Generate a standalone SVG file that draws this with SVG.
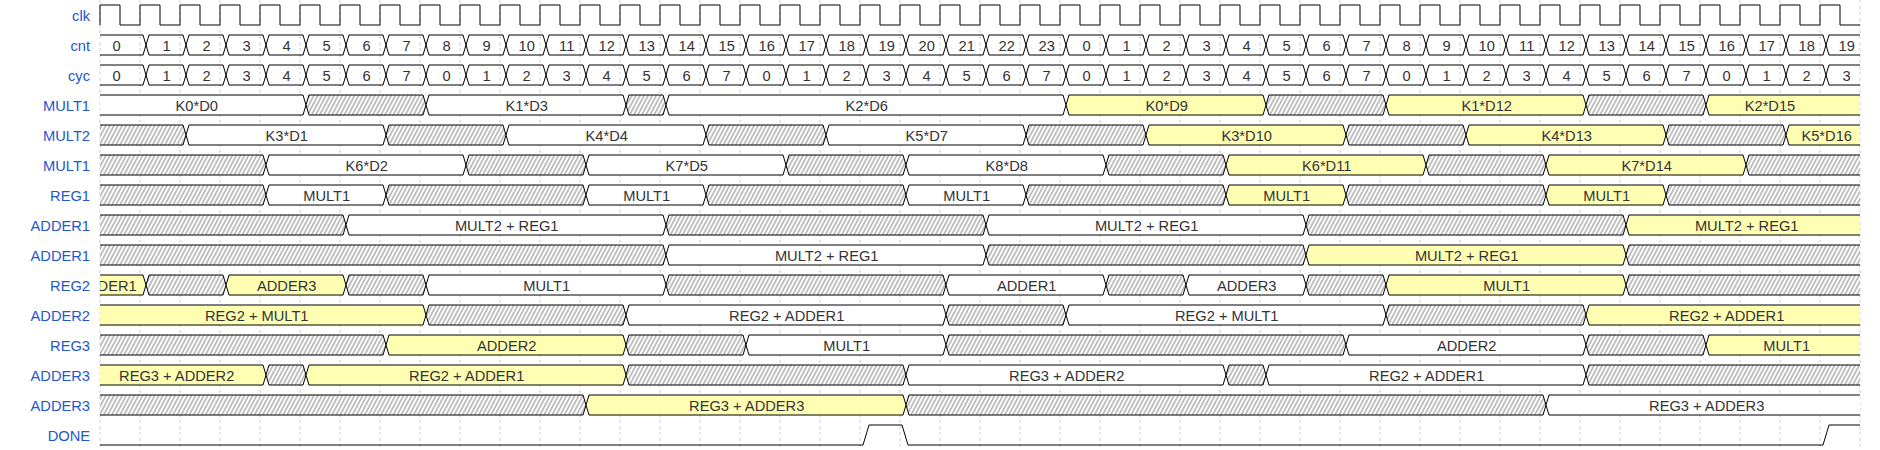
<svg xmlns="http://www.w3.org/2000/svg" xmlns:xlink="http://www.w3.org/1999/xlink" width="1880" height="450" viewBox="0 0 1880 450">
<style>
.lbl{font-family:"Liberation Sans",Arial,Helvetica,sans-serif;font-size:14.67px;fill:#1f56cc;text-anchor:end}
.t{font-family:"Liberation Sans",Arial,Helvetica,sans-serif;font-size:14.67px;fill:#333;text-anchor:middle}
.s{stroke:#000;stroke-width:1;fill:none}
.w{fill:#fff;stroke:#000;stroke-width:1}
.y{fill:#ffffb4;stroke:#000;stroke-width:1}
.h{fill:url(#hatch);stroke:#000;stroke-width:1}
.grid line{stroke:#ccc;stroke-width:1;stroke-dasharray:3,3}
</style>
<defs>
<pattern id="hatch" patternUnits="userSpaceOnUse" width="3.6" height="3.6" patternTransform="rotate(28)">
<rect width="3.6" height="3.6" fill="#fff"/>
<line x1="1.8" y1="-1" x2="1.8" y2="5" stroke="#7a7a7a" stroke-width="0.9"/>
</pattern>
<clipPath id="lane"><rect x="0" y="-5" width="1760" height="30"/></clipPath>
<path id="zz1" class="s" d="M0,0 h43 l6,20h34l6,-20h34 l6,20h34l6,-20h34 l6,20h34l6,-20h34 l6,20h34l6,-20h34 l6,20h34l6,-20h34 l6,20h34l6,-20h34 l6,20h34l6,-20h34 l6,20h34l6,-20h34 l6,20h34l6,-20h34 l6,20h34l6,-20h34 l6,20h34l6,-20h34 l6,20h34l6,-20h34 l6,20h34l6,-20h34 l6,20h34l6,-20h34 l6,20h34l6,-20h34 l6,20h34l6,-20h34 l6,20h34l6,-20h34 l6,20h34l6,-20h34 l6,20h34l6,-20h34 l6,20h34l6,-20h34 l6,20h34l6,-20h34 l6,20h31"/>
<path id="zz2" class="s" d="M0,20 h43 l6,-20h34l6,20h34 l6,-20h34l6,20h34 l6,-20h34l6,20h34 l6,-20h34l6,20h34 l6,-20h34l6,20h34 l6,-20h34l6,20h34 l6,-20h34l6,20h34 l6,-20h34l6,20h34 l6,-20h34l6,20h34 l6,-20h34l6,20h34 l6,-20h34l6,20h34 l6,-20h34l6,20h34 l6,-20h34l6,20h34 l6,-20h34l6,20h34 l6,-20h34l6,20h34 l6,-20h34l6,20h34 l6,-20h34l6,20h34 l6,-20h34l6,20h34 l6,-20h34l6,20h34 l6,-20h34l6,20h34 l6,-20h34l6,20h34 l6,-20h31"/>
</defs>
<rect width="1880" height="450" fill="#fff"/>

<g class="grid">
<line x1="100" y1="0" x2="100" y2="450"/><line x1="140" y1="0" x2="140" y2="450"/><line x1="180" y1="0" x2="180" y2="450"/><line x1="220" y1="0" x2="220" y2="450"/><line x1="260" y1="0" x2="260" y2="450"/><line x1="300" y1="0" x2="300" y2="450"/><line x1="340" y1="0" x2="340" y2="450"/><line x1="380" y1="0" x2="380" y2="450"/><line x1="420" y1="0" x2="420" y2="450"/><line x1="460" y1="0" x2="460" y2="450"/><line x1="500" y1="0" x2="500" y2="450"/><line x1="540" y1="0" x2="540" y2="450"/><line x1="580" y1="0" x2="580" y2="450"/><line x1="620" y1="0" x2="620" y2="450"/><line x1="660" y1="0" x2="660" y2="450"/><line x1="700" y1="0" x2="700" y2="450"/><line x1="740" y1="0" x2="740" y2="450"/><line x1="780" y1="0" x2="780" y2="450"/><line x1="820" y1="0" x2="820" y2="450"/><line x1="860" y1="0" x2="860" y2="450"/><line x1="900" y1="0" x2="900" y2="450"/><line x1="940" y1="0" x2="940" y2="450"/><line x1="980" y1="0" x2="980" y2="450"/><line x1="1020" y1="0" x2="1020" y2="450"/><line x1="1060" y1="0" x2="1060" y2="450"/><line x1="1100" y1="0" x2="1100" y2="450"/><line x1="1140" y1="0" x2="1140" y2="450"/><line x1="1180" y1="0" x2="1180" y2="450"/><line x1="1220" y1="0" x2="1220" y2="450"/><line x1="1260" y1="0" x2="1260" y2="450"/><line x1="1300" y1="0" x2="1300" y2="450"/><line x1="1340" y1="0" x2="1340" y2="450"/><line x1="1380" y1="0" x2="1380" y2="450"/><line x1="1420" y1="0" x2="1420" y2="450"/><line x1="1460" y1="0" x2="1460" y2="450"/><line x1="1500" y1="0" x2="1500" y2="450"/><line x1="1540" y1="0" x2="1540" y2="450"/><line x1="1580" y1="0" x2="1580" y2="450"/><line x1="1620" y1="0" x2="1620" y2="450"/><line x1="1660" y1="0" x2="1660" y2="450"/><line x1="1700" y1="0" x2="1700" y2="450"/><line x1="1740" y1="0" x2="1740" y2="450"/><line x1="1780" y1="0" x2="1780" y2="450"/><line x1="1820" y1="0" x2="1820" y2="450"/><line x1="1860" y1="0" x2="1860" y2="450"/>
</g>

<g id="labels">
<text class="lbl" x="90" y="21.3">clk</text>
<text class="lbl" x="90" y="51.3">cnt</text>
<text class="lbl" x="90" y="81.3">cyc</text>
<text class="lbl" x="90" y="111.3">MULT1</text>
<text class="lbl" x="90" y="141.3">MULT2</text>
<text class="lbl" x="90" y="171.3">MULT1</text>
<text class="lbl" x="90" y="201.3">REG1</text>
<text class="lbl" x="90" y="231.3">ADDER1</text>
<text class="lbl" x="90" y="261.3">ADDER1</text>
<text class="lbl" x="90" y="291.3">REG2</text>
<text class="lbl" x="90" y="321.3">ADDER2</text>
<text class="lbl" x="90" y="351.3">REG3</text>
<text class="lbl" x="90" y="381.3">ADDER3</text>
<text class="lbl" x="90" y="411.3">ADDER3</text>
<text class="lbl" x="90" y="441.3">DONE</text>
</g>

<g id="lane-clk">
<path class="s" d="M100,25 V5 h20v20h20v-20h20v20h20v-20h20v20h20v-20h20v20h20v-20h20v20h20v-20h20v20h20v-20h20v20h20v-20h20v20h20v-20h20v20h20v-20h20v20h20v-20 h20v20h20v-20h20v20h20v-20h20v20h20v-20h20v20h20v-20h20v20h20v-20h20v20h20v-20h20v20h20v-20h20v20h20v-20h20v20h20v-20h20v20h20v-20 h20v20h20v-20h20v20h20v-20h20v20h20v-20h20v20h20v-20h20v20h20v-20h20v20h20v-20h20v20h20v-20h20v20h20v-20h20v20h20v-20h20v20h20v-20 h20v20h20v-20h20v20h20v-20h20v20h20v-20h20v20h20v-20h20v20h20v-20h20v20h20v-20h20v20h20v-20h20v20h20v-20h20v20h20v-20h20v20h20v-20 h20v20h20v-20h20v20h20v-20h20v20h20v-20 h20v20h20"/>
</g>

<g id="lane-cnt" transform="translate(100,35)">
<use xlink:href="#zz1"/><use xlink:href="#zz2"/>
<text class="t" x="16.7" y="16.3">0</text><text class="t" x="66.7" y="16.3">1</text><text class="t" x="106.7" y="16.3">2</text><text class="t" x="146.7" y="16.3">3</text><text class="t" x="186.7" y="16.3">4</text><text class="t" x="226.7" y="16.3">5</text><text class="t" x="266.7" y="16.3">6</text><text class="t" x="306.7" y="16.3">7</text><text class="t" x="346.7" y="16.3">8</text><text class="t" x="386.7" y="16.3">9</text><text class="t" x="426.7" y="16.3">10</text><text class="t" x="466.7" y="16.3">11</text><text class="t" x="506.7" y="16.3">12</text><text class="t" x="546.7" y="16.3">13</text><text class="t" x="586.7" y="16.3">14</text><text class="t" x="626.7" y="16.3">15</text><text class="t" x="666.7" y="16.3">16</text><text class="t" x="706.7" y="16.3">17</text><text class="t" x="746.7" y="16.3">18</text><text class="t" x="786.7" y="16.3">19</text><text class="t" x="826.7" y="16.3">20</text><text class="t" x="866.7" y="16.3">21</text><text class="t" x="906.7" y="16.3">22</text><text class="t" x="946.7" y="16.3">23</text><text class="t" x="986.7" y="16.3">0</text><text class="t" x="1026.7" y="16.3">1</text><text class="t" x="1066.7" y="16.3">2</text><text class="t" x="1106.7" y="16.3">3</text><text class="t" x="1146.7" y="16.3">4</text><text class="t" x="1186.7" y="16.3">5</text><text class="t" x="1226.7" y="16.3">6</text><text class="t" x="1266.7" y="16.3">7</text><text class="t" x="1306.7" y="16.3">8</text><text class="t" x="1346.7" y="16.3">9</text><text class="t" x="1386.7" y="16.3">10</text><text class="t" x="1426.7" y="16.3">11</text><text class="t" x="1466.7" y="16.3">12</text><text class="t" x="1506.7" y="16.3">13</text><text class="t" x="1546.7" y="16.3">14</text><text class="t" x="1586.7" y="16.3">15</text><text class="t" x="1626.7" y="16.3">16</text><text class="t" x="1666.7" y="16.3">17</text><text class="t" x="1706.7" y="16.3">18</text><text class="t" x="1746.7" y="16.3">19</text>
</g>

<g id="lane-cyc" transform="translate(100,65)">
<use xlink:href="#zz1"/><use xlink:href="#zz2"/>
<text class="t" x="16.7" y="16.3">0</text><text class="t" x="66.7" y="16.3">1</text><text class="t" x="106.7" y="16.3">2</text><text class="t" x="146.7" y="16.3">3</text><text class="t" x="186.7" y="16.3">4</text><text class="t" x="226.7" y="16.3">5</text><text class="t" x="266.7" y="16.3">6</text><text class="t" x="306.7" y="16.3">7</text><text class="t" x="346.7" y="16.3">0</text><text class="t" x="386.7" y="16.3">1</text><text class="t" x="426.7" y="16.3">2</text><text class="t" x="466.7" y="16.3">3</text><text class="t" x="506.7" y="16.3">4</text><text class="t" x="546.7" y="16.3">5</text><text class="t" x="586.7" y="16.3">6</text><text class="t" x="626.7" y="16.3">7</text><text class="t" x="666.7" y="16.3">0</text><text class="t" x="706.7" y="16.3">1</text><text class="t" x="746.7" y="16.3">2</text><text class="t" x="786.7" y="16.3">3</text><text class="t" x="826.7" y="16.3">4</text><text class="t" x="866.7" y="16.3">5</text><text class="t" x="906.7" y="16.3">6</text><text class="t" x="946.7" y="16.3">7</text><text class="t" x="986.7" y="16.3">0</text><text class="t" x="1026.7" y="16.3">1</text><text class="t" x="1066.7" y="16.3">2</text><text class="t" x="1106.7" y="16.3">3</text><text class="t" x="1146.7" y="16.3">4</text><text class="t" x="1186.7" y="16.3">5</text><text class="t" x="1226.7" y="16.3">6</text><text class="t" x="1266.7" y="16.3">7</text><text class="t" x="1306.7" y="16.3">0</text><text class="t" x="1346.7" y="16.3">1</text><text class="t" x="1386.7" y="16.3">2</text><text class="t" x="1426.7" y="16.3">3</text><text class="t" x="1466.7" y="16.3">4</text><text class="t" x="1506.7" y="16.3">5</text><text class="t" x="1546.7" y="16.3">6</text><text class="t" x="1586.7" y="16.3">7</text><text class="t" x="1626.7" y="16.3">0</text><text class="t" x="1666.7" y="16.3">1</text><text class="t" x="1706.7" y="16.3">2</text><text class="t" x="1746.7" y="16.3">3</text>
</g>

<g id="lane-mult1a" transform="translate(100,95)">
<path class="w" d="M0,0 H203 L206,10 L203,20 H0"/>
<path class="h" d="M206,10 L209,0 H323 L326,10 L323,20 H209 Z"/>
<path class="w" d="M326,10 L329,0 H523 L526,10 L523,20 H329 Z"/>
<path class="h" d="M526,10 L529,0 H563 L566,10 L563,20 H529 Z"/>
<path class="w" d="M566,10 L569,0 H963 L966,10 L963,20 H569 Z"/>
<path class="y" d="M966,10 L969,0 H1163 L1166,10 L1163,20 H969 Z"/>
<path class="h" d="M1166,10 L1169,0 H1283 L1286,10 L1283,20 H1169 Z"/>
<path class="y" d="M1286,10 L1289,0 H1483 L1486,10 L1483,20 H1289 Z"/>
<path class="h" d="M1486,10 L1489,0 H1603 L1606,10 L1603,20 H1489 Z"/>
<path class="y" d="M1760,0 H1609 L1606,10 L1609,20 H1760"/>
<text class="t" x="96.7" y="16.3">K0*D0</text><text class="t" x="426.7" y="16.3">K1*D3</text><text class="t" x="766.7" y="16.3">K2*D6</text><text class="t" x="1066.7" y="16.3">K0*D9</text><text class="t" x="1386.7" y="16.3">K1*D12</text><text class="t" x="1670" y="16.3">K2*D15</text>
</g>

<g id="lane-mult2" transform="translate(100,125)">
<path class="h" d="M0,0 H83 L86,10 L83,20 H0"/>
<path class="w" d="M86,10 L89,0 H283 L286,10 L283,20 H89 Z"/>
<path class="h" d="M286,10 L289,0 H403 L406,10 L403,20 H289 Z"/>
<path class="w" d="M406,10 L409,0 H603 L606,10 L603,20 H409 Z"/>
<path class="h" d="M606,10 L609,0 H723 L726,10 L723,20 H609 Z"/>
<path class="w" d="M726,10 L729,0 H923 L926,10 L923,20 H729 Z"/>
<path class="h" d="M926,10 L929,0 H1043 L1046,10 L1043,20 H929 Z"/>
<path class="y" d="M1046,10 L1049,0 H1243 L1246,10 L1243,20 H1049 Z"/>
<path class="h" d="M1246,10 L1249,0 H1363 L1366,10 L1363,20 H1249 Z"/>
<path class="y" d="M1366,10 L1369,0 H1563 L1566,10 L1563,20 H1369 Z"/>
<path class="h" d="M1566,10 L1569,0 H1683 L1686,10 L1683,20 H1569 Z"/>
<path class="y" d="M1760,0 H1689 L1686,10 L1689,20 H1760"/>
<text class="t" x="186.7" y="16.3">K3*D1</text><text class="t" x="506.7" y="16.3">K4*D4</text><text class="t" x="826.7" y="16.3">K5*D7</text><text class="t" x="1146.7" y="16.3">K3*D10</text><text class="t" x="1466.7" y="16.3">K4*D13</text><text class="t" x="1726.7" y="16.3">K5*D16</text>
</g>

<g id="lane-mult1b" transform="translate(100,155)">
<path class="h" d="M0,0 H163 L166,10 L163,20 H0"/>
<path class="w" d="M166,10 L169,0 H363 L366,10 L363,20 H169 Z"/>
<path class="h" d="M366,10 L369,0 H483 L486,10 L483,20 H369 Z"/>
<path class="w" d="M486,10 L489,0 H683 L686,10 L683,20 H489 Z"/>
<path class="h" d="M686,10 L689,0 H803 L806,10 L803,20 H689 Z"/>
<path class="w" d="M806,10 L809,0 H1003 L1006,10 L1003,20 H809 Z"/>
<path class="h" d="M1006,10 L1009,0 H1123 L1126,10 L1123,20 H1009 Z"/>
<path class="y" d="M1126,10 L1129,0 H1323 L1326,10 L1323,20 H1129 Z"/>
<path class="h" d="M1326,10 L1329,0 H1443 L1446,10 L1443,20 H1329 Z"/>
<path class="y" d="M1446,10 L1449,0 H1643 L1646,10 L1643,20 H1449 Z"/>
<path class="h" d="M1760,0 H1649 L1646,10 L1649,20 H1760"/>
<text class="t" x="266.7" y="16.3">K6*D2</text><text class="t" x="586.7" y="16.3">K7*D5</text><text class="t" x="906.7" y="16.3">K8*D8</text><text class="t" x="1226.7" y="16.3">K6*D11</text><text class="t" x="1546.7" y="16.3">K7*D14</text>
</g>

<g id="lane-reg1" transform="translate(100,185)">
<path class="h" d="M0,0 H163 L166,10 L163,20 H0"/>
<path class="w" d="M166,10 L169,0 H283 L286,10 L283,20 H169 Z"/>
<path class="h" d="M286,10 L289,0 H483 L486,10 L483,20 H289 Z"/>
<path class="w" d="M486,10 L489,0 H603 L606,10 L603,20 H489 Z"/>
<path class="h" d="M606,10 L609,0 H803 L806,10 L803,20 H609 Z"/>
<path class="w" d="M806,10 L809,0 H923 L926,10 L923,20 H809 Z"/>
<path class="h" d="M926,10 L929,0 H1123 L1126,10 L1123,20 H929 Z"/>
<path class="y" d="M1126,10 L1129,0 H1243 L1246,10 L1243,20 H1129 Z"/>
<path class="h" d="M1246,10 L1249,0 H1443 L1446,10 L1443,20 H1249 Z"/>
<path class="y" d="M1446,10 L1449,0 H1563 L1566,10 L1563,20 H1449 Z"/>
<path class="h" d="M1760,0 H1569 L1566,10 L1569,20 H1760"/>
<text class="t" x="226.7" y="16.3">MULT1</text><text class="t" x="546.7" y="16.3">MULT1</text><text class="t" x="866.7" y="16.3">MULT1</text><text class="t" x="1186.7" y="16.3">MULT1</text><text class="t" x="1506.7" y="16.3">MULT1</text>
</g>

<g id="lane-adder1a" transform="translate(100,215)">
<path class="h" d="M0,0 H243 L246,10 L243,20 H0"/>
<path class="w" d="M246,10 L249,0 H563 L566,10 L563,20 H249 Z"/>
<path class="h" d="M566,10 L569,0 H883 L886,10 L883,20 H569 Z"/>
<path class="w" d="M886,10 L889,0 H1203 L1206,10 L1203,20 H889 Z"/>
<path class="h" d="M1206,10 L1209,0 H1523 L1526,10 L1523,20 H1209 Z"/>
<path class="y" d="M1760,0 H1529 L1526,10 L1529,20 H1760"/>
<text class="t" x="406.7" y="16.3">MULT2 + REG1</text><text class="t" x="1046.7" y="16.3">MULT2 + REG1</text><text class="t" x="1646.7" y="16.3">MULT2 + REG1</text>
</g>

<g id="lane-adder1b" transform="translate(100,245)">
<path class="h" d="M0,0 H563 L566,10 L563,20 H0"/>
<path class="w" d="M566,10 L569,0 H883 L886,10 L883,20 H569 Z"/>
<path class="h" d="M886,10 L889,0 H1203 L1206,10 L1203,20 H889 Z"/>
<path class="y" d="M1206,10 L1209,0 H1523 L1526,10 L1523,20 H1209 Z"/>
<path class="h" d="M1760,0 H1529 L1526,10 L1529,20 H1760"/>
<text class="t" x="726.7" y="16.3">MULT2 + REG1</text><text class="t" x="1366.7" y="16.3">MULT2 + REG1</text>
</g>

<g id="lane-reg2" transform="translate(100,275)">
<path class="y" d="M0,0 H43 L46,10 L43,20 H0"/>
<path class="h" d="M46,10 L49,0 H123 L126,10 L123,20 H49 Z"/>
<path class="y" d="M126,10 L129,0 H243 L246,10 L243,20 H129 Z"/>
<path class="h" d="M246,10 L249,0 H323 L326,10 L323,20 H249 Z"/>
<path class="w" d="M326,10 L329,0 H563 L566,10 L563,20 H329 Z"/>
<path class="h" d="M566,10 L569,0 H843 L846,10 L843,20 H569 Z"/>
<path class="w" d="M846,10 L849,0 H1003 L1006,10 L1003,20 H849 Z"/>
<path class="h" d="M1006,10 L1009,0 H1083 L1086,10 L1083,20 H1009 Z"/>
<path class="w" d="M1086,10 L1089,0 H1203 L1206,10 L1203,20 H1089 Z"/>
<path class="h" d="M1206,10 L1209,0 H1283 L1286,10 L1283,20 H1209 Z"/>
<path class="y" d="M1286,10 L1289,0 H1523 L1526,10 L1523,20 H1289 Z"/>
<path class="h" d="M1760,0 H1529 L1526,10 L1529,20 H1760"/>
<text class="t" x="-2.4" y="16.3" style="text-anchor:start" clip-path="url(#lane)">DER1</text><text class="t" x="186.7" y="16.3">ADDER3</text><text class="t" x="446.7" y="16.3">MULT1</text><text class="t" x="926.7" y="16.3">ADDER1</text><text class="t" x="1146.7" y="16.3">ADDER3</text><text class="t" x="1406.7" y="16.3">MULT1</text>
</g>

<g id="lane-adder2" transform="translate(100,305)">
<path class="y" d="M0,0 H323 L326,10 L323,20 H0"/>
<path class="h" d="M326,10 L329,0 H523 L526,10 L523,20 H329 Z"/>
<path class="w" d="M526,10 L529,0 H843 L846,10 L843,20 H529 Z"/>
<path class="h" d="M846,10 L849,0 H963 L966,10 L963,20 H849 Z"/>
<path class="w" d="M966,10 L969,0 H1283 L1286,10 L1283,20 H969 Z"/>
<path class="h" d="M1286,10 L1289,0 H1483 L1486,10 L1483,20 H1289 Z"/>
<path class="y" d="M1760,0 H1489 L1486,10 L1489,20 H1760"/>
<text class="t" x="156.7" y="16.3">REG2 + MULT1</text><text class="t" x="686.7" y="16.3">REG2 + ADDER1</text><text class="t" x="1126.7" y="16.3">REG2 + MULT1</text><text class="t" x="1626.7" y="16.3">REG2 + ADDER1</text>
</g>

<g id="lane-reg3" transform="translate(100,335)">
<path class="h" d="M0,0 H283 L286,10 L283,20 H0"/>
<path class="y" d="M286,10 L289,0 H523 L526,10 L523,20 H289 Z"/>
<path class="h" d="M526,10 L529,0 H643 L646,10 L643,20 H529 Z"/>
<path class="w" d="M646,10 L649,0 H843 L846,10 L843,20 H649 Z"/>
<path class="h" d="M846,10 L849,0 H1243 L1246,10 L1243,20 H849 Z"/>
<path class="w" d="M1246,10 L1249,0 H1483 L1486,10 L1483,20 H1249 Z"/>
<path class="h" d="M1486,10 L1489,0 H1603 L1606,10 L1603,20 H1489 Z"/>
<path class="y" d="M1760,0 H1609 L1606,10 L1609,20 H1760"/>
<text class="t" x="406.7" y="16.3">ADDER2</text><text class="t" x="746.7" y="16.3">MULT1</text><text class="t" x="1366.7" y="16.3">ADDER2</text><text class="t" x="1686.7" y="16.3">MULT1</text>
</g>

<g id="lane-adder3a" transform="translate(100,365)">
<path class="y" d="M0,0 H163 L166,10 L163,20 H0"/>
<path class="h" d="M166,10 L169,0 H203 L206,10 L203,20 H169 Z"/>
<path class="y" d="M206,10 L209,0 H523 L526,10 L523,20 H209 Z"/>
<path class="h" d="M526,10 L529,0 H803 L806,10 L803,20 H529 Z"/>
<path class="w" d="M806,10 L809,0 H1123 L1126,10 L1123,20 H809 Z"/>
<path class="h" d="M1126,10 L1129,0 H1163 L1166,10 L1163,20 H1129 Z"/>
<path class="w" d="M1166,10 L1169,0 H1483 L1486,10 L1483,20 H1169 Z"/>
<path class="h" d="M1760,0 H1489 L1486,10 L1489,20 H1760"/>
<text class="t" x="76.7" y="16.3">REG3 + ADDER2</text><text class="t" x="366.7" y="16.3">REG2 + ADDER1</text><text class="t" x="966.7" y="16.3">REG3 + ADDER2</text><text class="t" x="1326.7" y="16.3">REG2 + ADDER1</text>
</g>

<g id="lane-adder3b" transform="translate(100,395)">
<path class="h" d="M0,0 H483 L486,10 L483,20 H0"/>
<path class="y" d="M486,10 L489,0 H803 L806,10 L803,20 H489 Z"/>
<path class="h" d="M806,10 L809,0 H1443 L1446,10 L1443,20 H809 Z"/>
<path class="w" d="M1760,0 H1449 L1446,10 L1449,20 H1760"/>
<text class="t" x="646.7" y="16.3">REG3 + ADDER3</text><text class="t" x="1606.7" y="16.3">REG3 + ADDER3</text>
</g>

<g id="lane-done" transform="translate(100,425)">
<path class="s" d="M0,20 H763 L769,0 H802 L808,20 H1723 L1729,0 H1760"/>
</g>
</svg>
